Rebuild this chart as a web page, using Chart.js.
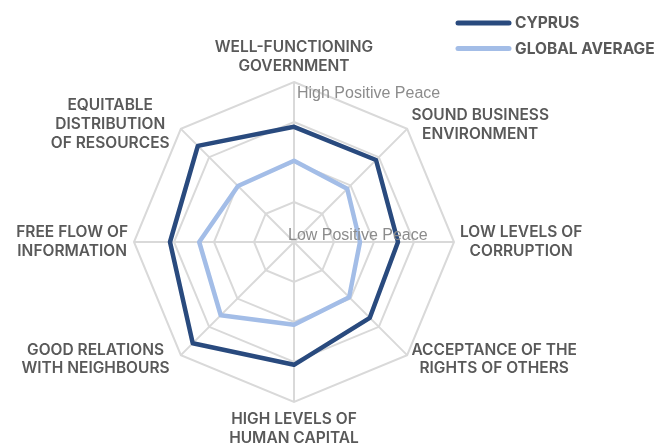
<!DOCTYPE html>
<html>
<head>
<meta charset="utf-8">
<script src="https://cdn.jsdelivr.net/npm/chart.js@4/dist/chart.umd.min.js"></script>
<style>
  html, body { margin: 0; padding: 0; background: #ffffff; }
  #wrap { width: 665px; height: 444px; position: relative; }
</style>
</head>
<body>
<div id="wrap"><canvas id="c" width="665" height="444"></canvas></div>
<script>
// Categories (clockwise from top)
const categories = [
  ['WELL-FUNCTIONING', 'GOVERNMENT'],
  ['SOUND BUSINESS', 'ENVIRONMENT'],
  ['LOW LEVELS OF', 'CORRUPTION'],
  ['ACCEPTANCE OF THE', 'RIGHTS OF OTHERS'],
  ['HIGH LEVELS OF', 'HUMAN CAPITAL'],
  ['GOOD RELATIONS', 'WITH NEIGHBOURS'],
  ['FREE FLOW OF', 'INFORMATION'],
  ['EQUITABLE', 'DISTRIBUTION', 'OF RESOURCES']
];
// Positive Peace scores (1 = high positive peace at the rim, 5 = low at the centre)
const cyprus = [2.12, 2.10, 2.40, 2.32, 1.93, 1.42, 1.90, 1.60];
const globalAverage = [2.97, 3.12, 3.35, 3.05, 2.93, 2.41, 2.63, 3.02];
const seriesNames = ['CYPRUS', 'GLOBAL AVERAGE'];
const tickLabelHigh = 'High Positive Peace';
const tickLabelLow = 'Low Positive Peace';

const darkBlue = '#294a7e';
const lightBlue = '#a3bde7';

const labelPlugin = {
  id: 'customLabels',
  afterDraw(chart) {
    const s = chart.scales.r;
    const ctx = chart.ctx;
    ctx.save();
    // point labels, centred multi-line blocks
    ctx.font = '600 15.5px Inter';
    ctx.fillStyle = '#595959';
    ctx.textAlign = 'center';
    ctx.textBaseline = 'middle';
    const lh = 18.8;
    categories.forEach((lines, i) => {
      const p = s.getPointPosition(i, s.drawingArea + 6);
      const w = Math.max(...lines.map(l => ctx.measureText(l).width));
      const h = lines.length * lh;
      const cos = Math.cos(p.angle), sin = Math.sin(p.angle);
      let cx = p.x, cy = p.y;
      if (Math.abs(cos) > 0.1) cx += Math.sign(cos) * w / 2;
      if (cos < -0.1 && Math.abs(sin) > 0.1) cx -= 7;
      if (Math.abs(sin) > 0.9) cy += Math.sign(sin) * (h / 2 + (sin > 0 ? 2 : 0));
      lines.forEach((l, k) => {
        ctx.fillText(l, cx, cy - h / 2 + lh * (k + 0.5));
      });
    });
    // scale labels
    ctx.font = '16px "Liberation Sans", Arial, sans-serif';
    ctx.fillStyle = '#8c8c8c';
    ctx.textAlign = 'left';
    const top = s.getPointPositionForValue(0, s.min);
    ctx.fillText(tickLabelHigh, s.xCenter + 3, top.y + 12);
    ctx.fillText(tickLabelLow, s.xCenter - 6, s.yCenter - 6);
    // legend
    const colors = [darkBlue, lightBlue];
    ctx.font = 'bold 15.5px Inter';
    ctx.fillStyle = '#595959';
    seriesNames.forEach((n, k) => {
      const y = 23 + k * 25.5;
      ctx.strokeStyle = colors[k];
      ctx.lineWidth = 5;
      ctx.lineCap = 'round';
      ctx.beginPath();
      ctx.moveTo(458, y);
      ctx.lineTo(509, y);
      ctx.stroke();
      ctx.fillText(n, 515, y + 0.5);
    });
    ctx.restore();
  }
};

new Chart(document.getElementById('c'), {
  type: 'radar',
  data: {
    labels: categories,
    datasets: [
      { label: seriesNames[0], data: cyprus, borderColor: darkBlue, backgroundColor: darkBlue,
        borderWidth: 4.5, pointRadius: 0, fill: false, borderJoinStyle: 'round' },
      { label: seriesNames[1], data: globalAverage, borderColor: lightBlue, backgroundColor: lightBlue,
        borderWidth: 4.5, pointRadius: 0, fill: false, borderJoinStyle: 'round' }
    ]
  },
  options: {
    responsive: false,
    animation: false,
    devicePixelRatio: 1,
    layout: { padding: { left: 134, right: 211, top: 82, bottom: 42 } },
    plugins: { legend: { display: false }, tooltip: { enabled: false } },
    scales: {
      r: {
        min: 1, max: 5, reverse: true,
        ticks: { stepSize: 1, display: false },
        grid: { color: '#d9d9d9', lineWidth: 2 },
        angleLines: { color: '#d9d9d9', lineWidth: 2 },
        pointLabels: { display: false }
      }
    }
  },
  plugins: [labelPlugin]
});
</script>
</body>
</html>
